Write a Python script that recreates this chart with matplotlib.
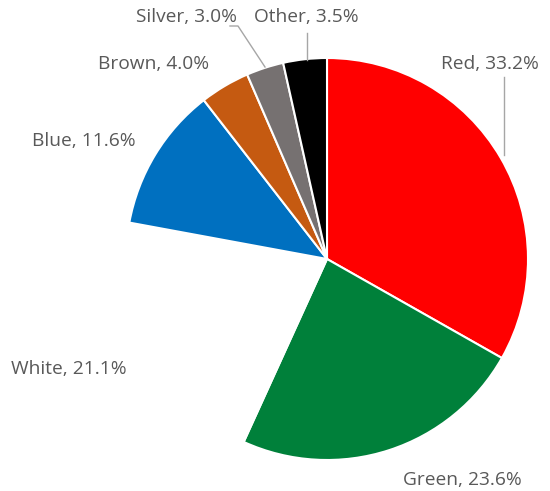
import matplotlib.pyplot as plt

colours = ["Red", "Green", "White", "Blue", "Brown", "Silver", "Other"]
shares = [33.2, 23.6, 21.1, 11.6, 4.0, 3.0, 3.5]
fills = ["#FF0000", "#00803A", "#FFFFFF", "#0070C0", "#C55A11", "#767171", "#000000"]

# label centres in pixel space (y measured from the bottom)
label_xy = {
    "Red": (490, 427),
    "Green": (462, 11),
    "White": (69, 122),
    "Blue": (84, 350),
    "Brown": (154, 427),
    "Silver": (187, 474),
    "Other": (306, 474),
}

W, H = 550, 491
fig = plt.figure(figsize=(W / 100, H / 100), dpi=100)
ax = fig.add_axes([0, 0, 1, 1])

ax.pie(shares, colors=fills, startangle=90, counterclock=False,
       center=(327, 232), radius=201,
       wedgeprops=dict(edgecolor="white", linewidth=1.5))

for name, val in zip(colours, shares):
    x, y = label_xy[name]
    ax.text(x, y, f"{name}, {val:.1f}%", ha="center", va="center",
            fontsize=13.8, color="#595959", family="Open Sans")

# leader lines
ax.plot([504, 504], [414, 336], color="#A6A6A6", lw=1)
ax.plot([307, 307], [458, 431], color="#A6A6A6", lw=1)
ax.plot([230, 238, 265], [465, 465, 424], color="#A6A6A6", lw=1)

ax.set_xlim(0, W)
ax.set_ylim(0, H)
ax.set_aspect("equal")
ax.axis("off")

fig.savefig("out.png", dpi=100, facecolor="white")
